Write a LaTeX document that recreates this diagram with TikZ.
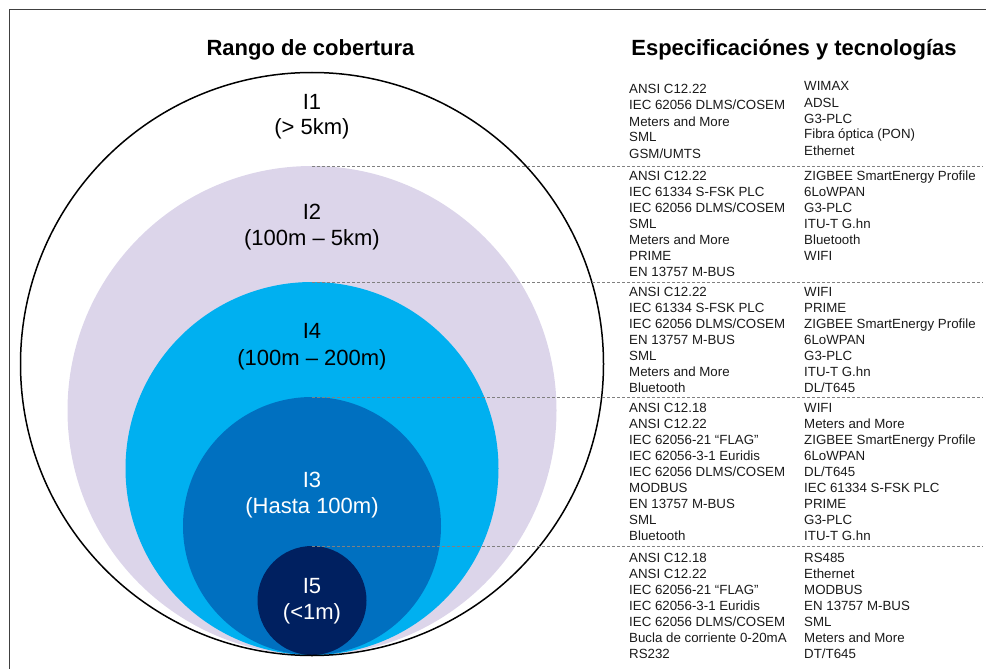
\documentclass[tikz,border=0pt]{standalone}
\usepackage{fontspec}
\setmainfont{Liberation Sans}
\definecolor{lav}{HTML}{DCD5EA}
\definecolor{lblue}{HTML}{00B0F0}
\definecolor{mblue}{HTML}{0070C0}
\definecolor{navy}{HTML}{002060}
\definecolor{txt}{HTML}{1A1A1A}
\definecolor{framec}{HTML}{404040}
\definecolor{dashc}{HTML}{808080}
\tikzset{
  circ/.style={circle, inner sep=0pt, outer sep=0pt},
  spec/.style={anchor=base west, inner sep=0pt, text=txt, font=\fontsize{13.3}{16}\selectfont},
  big/.style={anchor=base, inner sep=0pt, font=\fontsize{22}{26}\selectfont},
  ttl/.style={anchor=base, inner sep=0pt, text=black, font=\fontsize{22}{26}\selectfont\bfseries},
  dashline/.style={draw=dashc, line width=0.8pt, dash pattern=on 3pt off 2pt},
}
\begin{document}
\begin{tikzpicture}[x=1pt,y=-1pt]
\useasboundingbox (0,0) rectangle (986,669);
% frame
\draw[framec, line width=1pt] (9,669) -- (9,10) -- (986,10);
% titles
\node[ttl] (t1) at (310.5,56) {Rango de cobertura};
\node[ttl] (t2) at (794,56) {Especificaciónes y tecnologías};
% circles
\node[circ, fill=lav, minimum size=489pt] (c2) at (312,410.5) {};
\node[circ, fill=lblue, minimum size=373pt] (c4) at (312,468.5) {};
\node[circ, fill=mblue, minimum size=258pt] (c3) at (312,526) {};
\node[circ, fill=navy, minimum size=109pt] (c5) at (312,600.5) {};
\node[circ, draw=black, line width=1.5pt, minimum size=583pt] (c1) at (312,364) {};
% dashed separators
\coordinate (R) at (983,0);
\foreach \c in {c2,c4,c3,c5}
  \draw[dashline] (\c.north) -- (\c.north -| R);
% circle labels
\node[big, text=black] (l1a) at (312,110) {I1};
\node[big, text=black] (l1b) at (312,135) {(> 5km)};
\node[big, text=black] (l2a) at (312,219) {I2};
\node[big, text=black] (l2b) at (312,245) {(100m – 5km)};
\node[big, text=black] (l4a) at (312,338) {I4};
\node[big, text=black] (l4b) at (312,365) {(100m – 200m)};
\node[big, text=white] (l3a) at (312,487) {I3};
\node[big, text=white] (l3b) at (312,513) {(Hasta 100m)};
\node[big, text=white] (l5a) at (312,593) {I5};
\node[big, text=white] (l5b) at (312,619) {(<1m)};
% specification lists
\foreach \t [count=\i from 0] in {ANSI C12.22, IEC 62056 DLMS/COSEM, Meters and More, SML, GSM/UMTS}
  \node[spec] (g1l\i) at (629,94+16*\i) {\t};
\foreach \t [count=\i from 0] in {WIMAX, ADSL, G3-PLC, Fibra óptica (PON), Ethernet}
  \node[spec] (g1r\i) at (804,91+16*\i) {\t};
\foreach \t [count=\i from 0] in {ANSI C12.22, IEC 61334 S-FSK PLC, IEC 62056 DLMS/COSEM, SML, Meters and More, PRIME, EN 13757 M-BUS}
  \node[spec] (g2l\i) at (629,180+16*\i) {\t};
\foreach \t [count=\i from 0] in {ZIGBEE SmartEnergy Profile, 6LoWPAN, G3-PLC, ITU-T G.hn, Bluetooth, WIFI}
  \node[spec] (g2r\i) at (804,180+16*\i) {\t};
\foreach \t [count=\i from 0] in {ANSI C12.22, IEC 61334 S-FSK PLC, IEC 62056 DLMS/COSEM, EN 13757 M-BUS, SML, Meters and More, Bluetooth}
  \node[spec] (g3l\i) at (629,296+16*\i) {\t};
\foreach \t [count=\i from 0] in {WIFI, PRIME, ZIGBEE SmartEnergy Profile, 6LoWPAN, G3-PLC, ITU-T G.hn, DL/T645}
  \node[spec] (g3r\i) at (804,296+16*\i) {\t};
\foreach \t [count=\i from 0] in {ANSI C12.18, ANSI C12.22, IEC 62056-21 “FLAG”, IEC 62056-3-1 Euridis, IEC 62056 DLMS/COSEM, MODBUS, EN 13757 M-BUS, SML, Bluetooth}
  \node[spec] (g4l\i) at (629,412+16*\i) {\t};
\foreach \t [count=\i from 0] in {WIFI, Meters and More, ZIGBEE SmartEnergy Profile, 6LoWPAN, DL/T645, IEC 61334 S-FSK PLC, PRIME, G3-PLC, ITU-T G.hn}
  \node[spec] (g4r\i) at (804,412+16*\i) {\t};
\foreach \t [count=\i from 0] in {ANSI C12.18, ANSI C12.22, IEC 62056-21 “FLAG”, IEC 62056-3-1 Euridis, IEC 62056 DLMS/COSEM, Bucla de corriente 0-20mA, RS232}
  \node[spec] (g5l\i) at (629,562+16*\i) {\t};
\foreach \t [count=\i from 0] in {RS485, Ethernet, MODBUS, EN 13757 M-BUS, SML, Meters and More, DT/T645}
  \node[spec] (g5r\i) at (804,562+16*\i) {\t};
\end{tikzpicture}
\end{document}
